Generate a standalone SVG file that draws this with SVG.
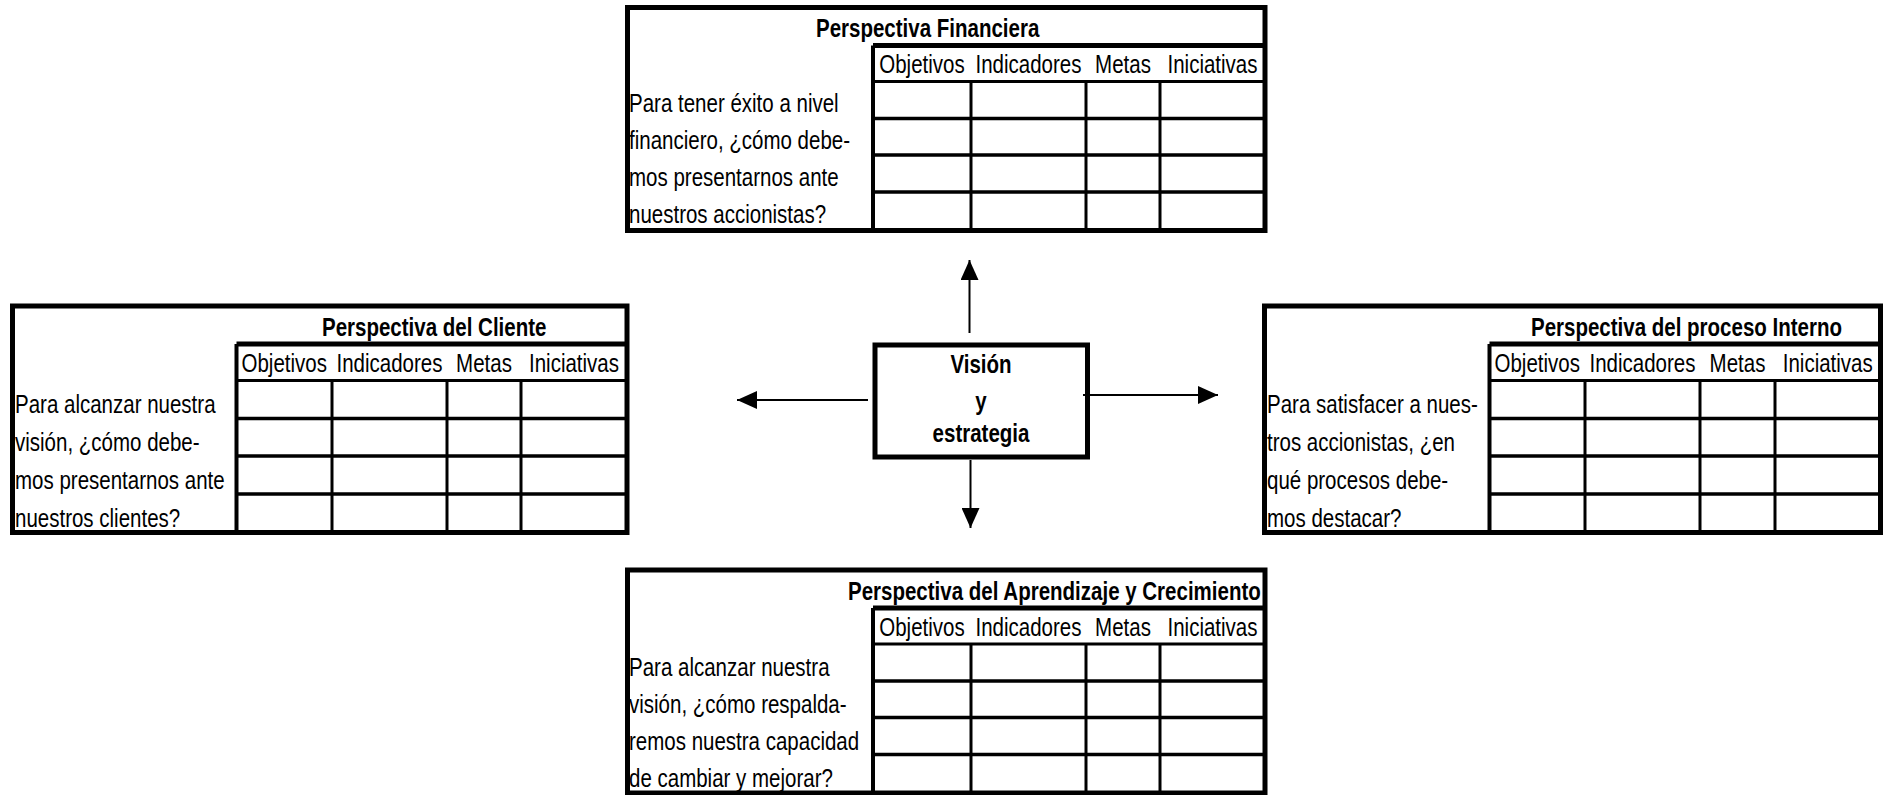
<svg xmlns="http://www.w3.org/2000/svg" width="1887" height="795" viewBox="0 0 1887 795">
  <style>
    text { font-family: "Liberation Sans", Arial, sans-serif; font-size: 25px; fill: #000; }
    .t { font-weight: bold; }
    .h { text-anchor: middle; }
    .frame { fill: none; stroke: #000; stroke-width: 5; }
    .top { stroke: #000; stroke-width: 5; }
    .edge { stroke: #000; stroke-width: 4; }
    .hd { stroke: #000; stroke-width: 3; }
    .row { stroke: #000; stroke-width: 3.5; }
    .col { stroke: #000; stroke-width: 3; }
    .link { stroke: #000; stroke-width: 2; fill: none; }
  </style>
  <defs>
    <marker id="head" markerUnits="userSpaceOnUse" markerWidth="20" markerHeight="18" refX="20" refY="9" orient="auto">
      <path d="M0,0 L20,9 L0,18 z" fill="#000"/>
    </marker>
  </defs>
  <rect width="1887" height="795" fill="#fff"/>

  <!-- Texts are set narrow: each one is squeezed horizontally to 82 % -->

  <!-- Financial perspective -->
  <g id="financiera">
    <rect class="frame" x="627.5" y="7.5" width="637.5" height="223"/>
    <line class="top" x1="873" y1="45.5" x2="1265" y2="45.5"/>
    <line class="edge" x1="873" y1="45.5" x2="873" y2="230.5"/>
    <line class="hd" x1="873" y1="81.5" x2="1265" y2="81.5"/>
    <line class="row" x1="873" y1="118.5" x2="1265" y2="118.5"/>
    <line class="row" x1="873" y1="155" x2="1265" y2="155"/>
    <line class="row" x1="873" y1="192" x2="1265" y2="192"/>
    <line class="col" x1="971" y1="81.5" x2="971" y2="230.5"/>
    <line class="col" x1="1086" y1="81.5" x2="1086" y2="230.5"/>
    <line class="col" x1="1160" y1="81.5" x2="1160" y2="230.5"/>
    <text class="t" transform="translate(816 37) scale(.82 1)">Perspectiva Financiera</text>
    <text class="h" transform="translate(922 73) scale(.82 1)">Objetivos</text>
    <text class="h" transform="translate(1028.5 73) scale(.82 1)">Indicadores</text>
    <text class="h" transform="translate(1123 73) scale(.82 1)">Metas</text>
    <text class="h" transform="translate(1212.5 73) scale(.82 1)">Iniciativas</text>
    <text transform="translate(629 112) scale(.82 1)">Para tener éxito a nivel</text>
    <text transform="translate(629 149) scale(.82 1)">financiero, ¿cómo debe-</text>
    <text transform="translate(629 186) scale(.82 1)">mos presentarnos ante</text>
    <text transform="translate(629 223) scale(.82 1)">nuestros accionistas?</text>
  </g>

  <!-- Customer perspective -->
  <g id="cliente">
    <rect class="frame" x="12.5" y="306" width="614.5" height="226.5"/>
    <line class="top" x1="236.5" y1="344" x2="627" y2="344"/>
    <line class="edge" x1="236.5" y1="344" x2="236.5" y2="532.5"/>
    <line class="hd" x1="236.5" y1="380.5" x2="627" y2="380.5"/>
    <line class="row" x1="236.5" y1="418.5" x2="627" y2="418.5"/>
    <line class="row" x1="236.5" y1="456" x2="627" y2="456"/>
    <line class="row" x1="236.5" y1="494" x2="627" y2="494"/>
    <line class="col" x1="332" y1="380.5" x2="332" y2="532.5"/>
    <line class="col" x1="447" y1="380.5" x2="447" y2="532.5"/>
    <line class="col" x1="521" y1="380.5" x2="521" y2="532.5"/>
    <text class="t" transform="translate(322 335.5) scale(.82 1)">Perspectiva del Cliente</text>
    <text class="h" transform="translate(284.25 372) scale(.82 1)">Objetivos</text>
    <text class="h" transform="translate(389.5 372) scale(.82 1)">Indicadores</text>
    <text class="h" transform="translate(484 372) scale(.82 1)">Metas</text>
    <text class="h" transform="translate(574 372) scale(.82 1)">Iniciativas</text>
    <text transform="translate(15 413) scale(.82 1)">Para alcanzar nuestra</text>
    <text transform="translate(15 451) scale(.82 1)">visión, ¿cómo debe-</text>
    <text transform="translate(15 489) scale(.82 1)">mos presentarnos ante</text>
    <text transform="translate(15 527) scale(.82 1)">nuestros clientes?</text>
  </g>

  <!-- Internal process perspective -->
  <g id="interno">
    <rect class="frame" x="1264.5" y="306" width="616" height="226.5"/>
    <line class="top" x1="1489.5" y1="344" x2="1880.5" y2="344"/>
    <line class="edge" x1="1489.5" y1="344" x2="1489.5" y2="532.5"/>
    <line class="hd" x1="1489.5" y1="380.5" x2="1880.5" y2="380.5"/>
    <line class="row" x1="1489.5" y1="418.5" x2="1880.5" y2="418.5"/>
    <line class="row" x1="1489.5" y1="456" x2="1880.5" y2="456"/>
    <line class="row" x1="1489.5" y1="494" x2="1880.5" y2="494"/>
    <line class="col" x1="1585" y1="380.5" x2="1585" y2="532.5"/>
    <line class="col" x1="1700" y1="380.5" x2="1700" y2="532.5"/>
    <line class="col" x1="1775" y1="380.5" x2="1775" y2="532.5"/>
    <text class="t" transform="translate(1531 335.5) scale(.82 1)">Perspectiva del proceso Interno</text>
    <text class="h" transform="translate(1537.25 372) scale(.82 1)">Objetivos</text>
    <text class="h" transform="translate(1642.5 372) scale(.82 1)">Indicadores</text>
    <text class="h" transform="translate(1737.5 372) scale(.82 1)">Metas</text>
    <text class="h" transform="translate(1827.75 372) scale(.82 1)">Iniciativas</text>
    <text transform="translate(1267 413) scale(.82 1)">Para satisfacer a nues-</text>
    <text transform="translate(1267 451) scale(.82 1)">tros accionistas, ¿en</text>
    <text transform="translate(1267 489) scale(.82 1)">qué procesos debe-</text>
    <text transform="translate(1267 527) scale(.82 1)">mos destacar?</text>
  </g>

  <!-- Learning and growth perspective -->
  <g id="aprendizaje">
    <rect class="frame" x="627.5" y="570" width="637.5" height="223"/>
    <line class="top" x1="873" y1="608" x2="1265" y2="608"/>
    <line class="edge" x1="873" y1="608" x2="873" y2="793"/>
    <line class="hd" x1="873" y1="644" x2="1265" y2="644"/>
    <line class="row" x1="873" y1="681" x2="1265" y2="681"/>
    <line class="row" x1="873" y1="717.5" x2="1265" y2="717.5"/>
    <line class="row" x1="873" y1="754.5" x2="1265" y2="754.5"/>
    <line class="col" x1="971" y1="644" x2="971" y2="793"/>
    <line class="col" x1="1086" y1="644" x2="1086" y2="793"/>
    <line class="col" x1="1160" y1="644" x2="1160" y2="793"/>
    <text class="t" transform="translate(848 599.5) scale(.82 1)">Perspectiva del Aprendizaje y Crecimiento</text>
    <text class="h" transform="translate(922 635.5) scale(.82 1)">Objetivos</text>
    <text class="h" transform="translate(1028.5 635.5) scale(.82 1)">Indicadores</text>
    <text class="h" transform="translate(1123 635.5) scale(.82 1)">Metas</text>
    <text class="h" transform="translate(1212.5 635.5) scale(.82 1)">Iniciativas</text>
    <text transform="translate(629 676) scale(.82 1)">Para alcanzar nuestra</text>
    <text transform="translate(629 713) scale(.82 1)">visión, ¿cómo respalda-</text>
    <text transform="translate(629 749.5) scale(.82 1)">remos nuestra capacidad</text>
    <text transform="translate(629 786.5) scale(.82 1)">de cambiar y mejorar?</text>
  </g>

  <!-- Vision and strategy -->
  <g id="vision">
    <rect class="frame" x="875" y="345" width="212.5" height="112"/>
    <text class="t h" transform="translate(981 373) scale(.82 1)">Visión</text>
    <text class="t h" transform="translate(981 410) scale(.82 1)">y</text>
    <text class="t h" transform="translate(981 442) scale(.82 1)">estrategia</text>
  </g>

  <!-- Arrows from the centre to each perspective -->
  <g id="connectors">
    <line class="link" x1="969.5" y1="333" x2="969.5" y2="260" marker-end="url(#head)"/>
    <line class="link" x1="970.5" y1="460" x2="970.5" y2="528" marker-end="url(#head)"/>
    <line class="link" x1="868" y1="400" x2="737" y2="400" marker-end="url(#head)"/>
    <line class="link" x1="1083" y1="395" x2="1218" y2="395" marker-end="url(#head)"/>
  </g>
</svg>
